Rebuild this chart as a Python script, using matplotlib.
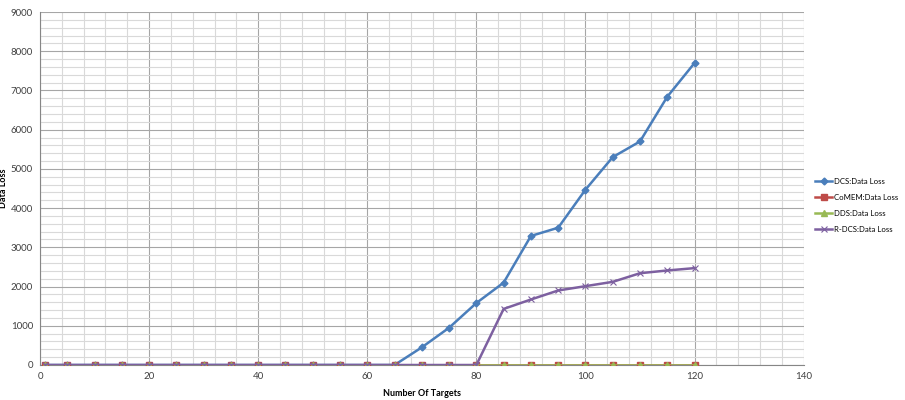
import numpy as np
import matplotlib.pyplot as plt
from matplotlib.ticker import MultipleLocator

# data
targets = [1, 5, 10, 15, 20, 25, 30, 35, 40, 45, 50, 55, 60, 65, 70, 75, 80,
           85, 90, 95, 100, 105, 110, 115, 120]
dcs = [0, 0, 0, 0, 0, 0, 0, 0, 0, 0, 0, 0, 0, 0, 450, 950, 1580,
       2100, 3290, 3500, 4470, 5300, 5700, 6840, 7700]
comem = [0] * 25
dds = [0] * 25
rdcs = [0, 0, 0, 0, 0, 0, 0, 0, 0, 0, 0, 0, 0, 0, 0, 0, 0,
        1430, 1670, 1900, 2010, 2120, 2340, 2410, 2470]

plt.rcParams['font.family'] = ['Lato', 'DejaVu Sans']

fig = plt.figure(figsize=(9.05, 4), dpi=100)
ax = fig.add_axes([0.0442, 0.0875, 0.8438, 0.8825])

ax.plot(targets, dcs, color='#4A7EBB', lw=1.8, marker='D', ms=3.5, label='DCS:Data Loss', zorder=3)
ax.plot(targets, comem, color='#BE4B48', lw=1.8, marker='s', ms=4.5, label='CoMEM:Data Loss', zorder=3)
ax.plot(targets, dds, color='#98B954', lw=1.8, marker='^', ms=4, label='DDS:Data Loss', zorder=3)
ax.plot(targets, rdcs, color='#7D60A0', lw=1.8, marker='x', ms=4, mew=0.8, label='R-DCS:Data Loss', zorder=3)

ax.set_xlim(0, 140)
ax.set_ylim(0, 9000)
ax.xaxis.set_major_locator(MultipleLocator(20))
ax.xaxis.set_minor_locator(MultipleLocator(4))
ax.yaxis.set_major_locator(MultipleLocator(1000))
ax.yaxis.set_minor_locator(MultipleLocator(200))
ax.grid(which='major', color='#a6a6a6', lw=0.8)
ax.grid(which='minor', color='#d9d9d9', lw=0.8)
ax.set_axisbelow(True)
ax.tick_params(which='both', length=0, labelsize=7, colors='#404040', pad=5)
for s in ['top', 'right']:
    ax.spines[s].set_visible(False)
for s in ['left', 'bottom']:
    ax.spines[s].set_color('#868686')

ax.set_xlabel('Number Of Targets', fontsize=6.5, fontweight='bold', labelpad=6)
ax.set_ylabel('Data Loss', fontsize=6.5, fontweight='bold')
ax.yaxis.set_label_coords(-0.042, 0.5)

ax.legend(loc='upper left', bbox_to_anchor=(1.008, 0.545), frameon=False,
          fontsize=5.6, handlelength=2.2, labelspacing=1.15, handletextpad=0.2,
          borderaxespad=0.3)

plt.savefig('out.png', dpi=100)
